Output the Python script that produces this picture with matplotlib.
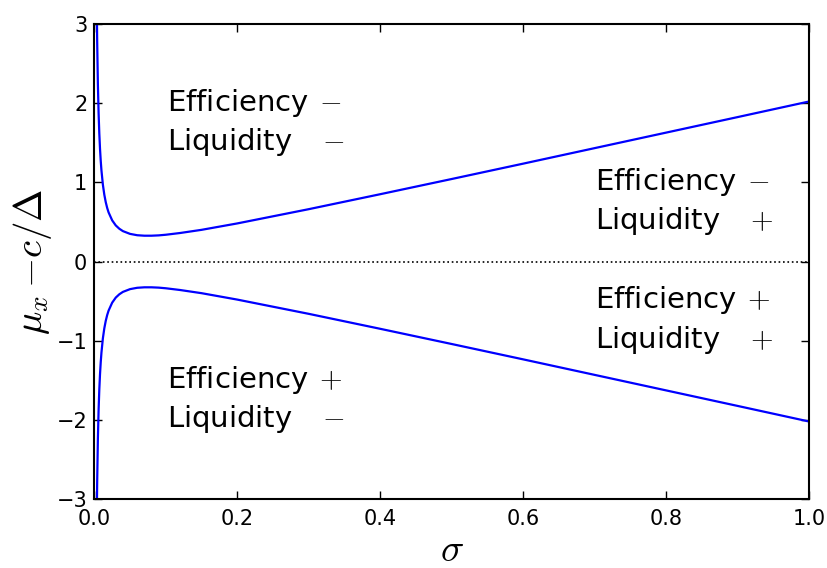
import matplotlib
matplotlib.use("Agg")
import matplotlib.pyplot as plt

# values
sigma = [0.0035, 0.004, 0.005, 0.006, 0.007, 0.008, 0.009, 0.010, 0.012, 0.014,
         0.016, 0.018, 0.020, 0.025, 0.030, 0.035, 0.040, 0.050, 0.060, 0.070,
         0.080, 0.090, 0.100, 0.120, 0.150, 0.200, 0.300, 0.400, 0.500, 0.600,
         0.700, 0.800, 0.900, 1.000]
upper = [3.18, 2.79, 2.24, 1.875, 1.615, 1.42, 1.27, 1.15, 0.97, 0.844,
         0.75, 0.677, 0.62, 0.52, 0.456, 0.414, 0.384, 0.349, 0.332, 0.326,
         0.326, 0.33, 0.338, 0.36, 0.40, 0.481, 0.661, 0.85, 1.042, 1.236,
         1.432, 1.628, 1.824, 2.021]
lower = [-3.18, -2.79, -2.24, -1.875, -1.615, -1.42, -1.27, -1.15, -0.97, -0.844,
         -0.75, -0.677, -0.62, -0.52, -0.456, -0.414, -0.384, -0.349, -0.332, -0.326,
         -0.326, -0.33, -0.338, -0.36, -0.40, -0.481, -0.661, -0.85, -1.042, -1.236,
         -1.432, -1.628, -1.824, -2.021]

# region annotations: (x, y, text)
labels = [
    (0.102, 1.76, "Efficiency \u200a$-$\nLiquidity   \u200a$-$"),
    (0.700, 0.76, "Efficiency \u200a$-$\nLiquidity   \u200a$+$"),
    (0.700, -0.74, "Efficiency \u200a$+$\nLiquidity   \u200a$+$"),
    (0.102, -1.74, "Efficiency \u200a$+$\nLiquidity   \u200a$-$"),
]

plt.rcParams['mathtext.fontset'] = 'cm'

fig = plt.figure(figsize=(8.28, 5.68), dpi=100)
ax = fig.add_axes([0.1139, 0.1215, 0.977 - 0.1139, 0.9577 - 0.1215])

ax.plot(sigma, upper, color='blue', lw=1.6)
ax.plot(sigma, lower, color='blue', lw=1.6)
ax.axhline(0, color='black', ls=':', lw=1.2)

for x, y, s in labels:
    ax.text(x, y, s, fontsize=21, ha='left', va='center', linespacing=1.3)

ax.set_xlim(0, 1)
ax.set_ylim(-3, 3)
ax.set_xticks([0.0, 0.2, 0.4, 0.6, 0.8, 1.0])
ax.set_yticks([-3, -2, -1, 0, 1, 2, 3])
ax.tick_params(direction='in', top=True, right=True, length=6, width=1,
               labelsize=15)
ax.tick_params(axis='x', pad=7)
ax.tick_params(axis='y', pad=5)
for sp in ax.spines.values():
    sp.set_linewidth(1.5)

ax.set_xlabel(r'$\sigma$', fontsize=28, labelpad=2)
ax.set_ylabel(r'$\mu_x\,{-}c/\Delta$', fontsize=28, labelpad=2)

fig.savefig('out.png', dpi=100)
